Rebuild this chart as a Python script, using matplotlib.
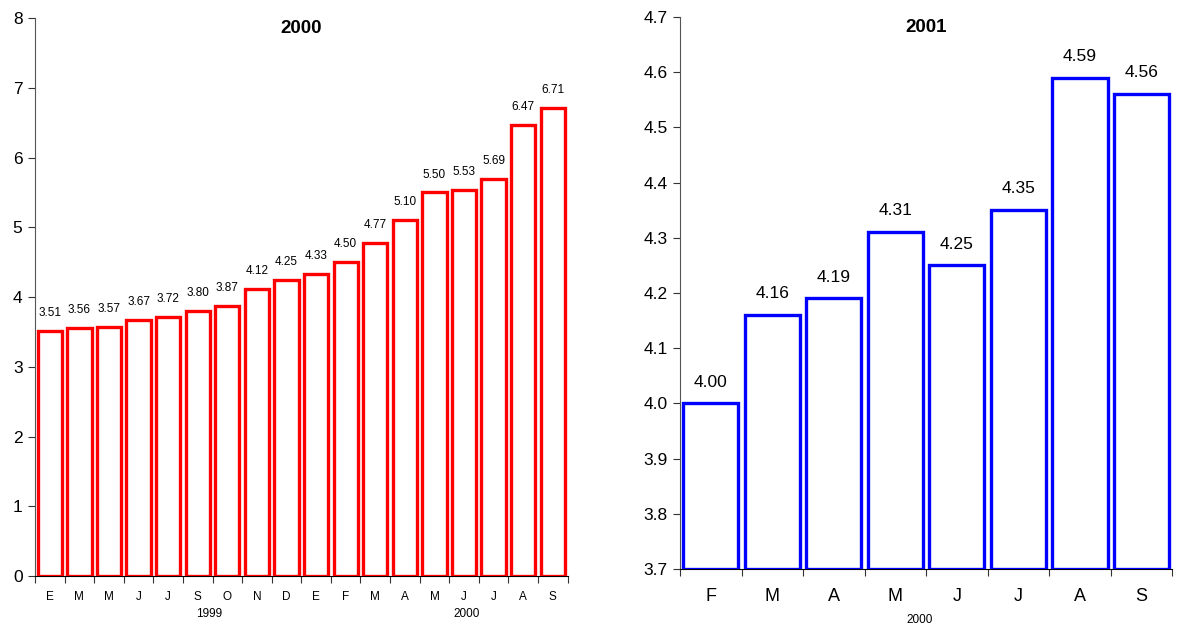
import matplotlib
matplotlib.use("Agg")
import matplotlib.pyplot as plt
import numpy as np

plt.rcParams['font.family'] = ['Liberation Sans', 'DejaVu Sans']

left_months = ["E", "M", "M", "J", "J", "S", "O", "N", "D", "E", "F", "M", "A", "M", "J", "J", "A", "S"]
left_values = [3.51, 3.56, 3.57, 3.67, 3.72, 3.80, 3.87, 4.12, 4.25, 4.33, 4.50, 4.77, 5.10, 5.50, 5.53, 5.69, 6.47, 6.71]
left_title = "2000"
left_years = ["1999", "2000"]

right_months = ["F", "M", "A", "M", "J", "J", "A", "S"]
right_values = [4.00, 4.16, 4.19, 4.31, 4.25, 4.35, 4.59, 4.56]
right_title = "2001"
right_year = "2000"

fig = plt.figure(figsize=(11.8, 6.27), dpi=100)
axL = fig.add_axes([0.0297, 0.0813, 0.4513, 0.8900])
axR = fig.add_axes([0.5763, 0.0925, 0.4170, 0.8805])

def style(ax, n):
    for s in ['top', 'right']:
        ax.spines[s].set_visible(False)
    ax.spines['left'].set_color('#555555')
    ax.spines['bottom'].set_color('black')
    ax.set_xlim(-0.5, n - 0.5)
    ax.set_xticks(np.arange(n + 1) - 0.5)
    ax.set_xticklabels([])
    ax.tick_params(axis='x', which='major', direction='out', length=5, color='#333333')
    ax.tick_params(axis='y', direction='out', length=5, color='#333333')

# Left chart
n = len(left_values)
x = np.arange(n)
axL.bar(x, left_values, width=0.82, facecolor='white', edgecolor='#ff0000', linewidth=2.4, zorder=3)
style(axL, n)
axL.set_ylim(0, 8)
axL.set_yticks(range(0, 9))
axL.tick_params(axis='y', labelsize=12.5, pad=4)
axL.set_xticks(x, minor=True)
axL.set_xticklabels(left_months, minor=True, fontsize=8.5)
axL.tick_params(axis='x', which='minor', length=0, pad=11)
for xi, v in zip(x, left_values):
    axL.text(xi, v + 0.17, f"{v:.2f}", ha='center', va='bottom', fontsize=8.5)
axL.text(0.5, 0.982, left_title, transform=axL.transAxes, ha='center', va='center',
         fontsize=13.5, fontweight='bold')
for label, xpos in zip(left_years, [5.4, 14.1]):
    axL.annotate(label, xy=(xpos, 0), xycoords=('data', 'axes fraction'),
                 xytext=(0, -27), textcoords='offset points', ha='center', va='center',
                 fontsize=8.5, annotation_clip=False)

# Right chart
m = len(right_values)
xr = np.arange(m)
axR.bar(xr, [v - 3.7 for v in right_values], bottom=3.7, width=0.9, facecolor='white',
        edgecolor='#0000ff', linewidth=2.4, zorder=3)
style(axR, m)
axR.set_ylim(3.7, 4.7)
yt = np.round(np.arange(3.7, 4.71, 0.1), 1)
axR.set_yticks(yt)
axR.set_yticklabels([f"{v:.1f}" for v in yt])
axR.tick_params(axis='y', labelsize=12.5, pad=4)
axR.set_xticks(xr, minor=True)
axR.set_xticklabels(right_months, minor=True, fontsize=13)
axR.tick_params(axis='x', which='minor', length=0, pad=14)
for xi, v in zip(xr, right_values):
    axR.text(xi, v + 0.025, f"{v:.2f}", ha='center', va='bottom', fontsize=12.5)
axR.text(0.5, 0.98, right_title, transform=axR.transAxes, ha='center', va='center',
         fontsize=13.5, fontweight='bold')
axR.annotate(right_year, xy=(3.4, 0), xycoords=('data', 'axes fraction'),
             xytext=(0, -37), textcoords='offset points', ha='center', va='center',
             fontsize=8.5, annotation_clip=False)

fig.savefig("out.png", dpi=100)
